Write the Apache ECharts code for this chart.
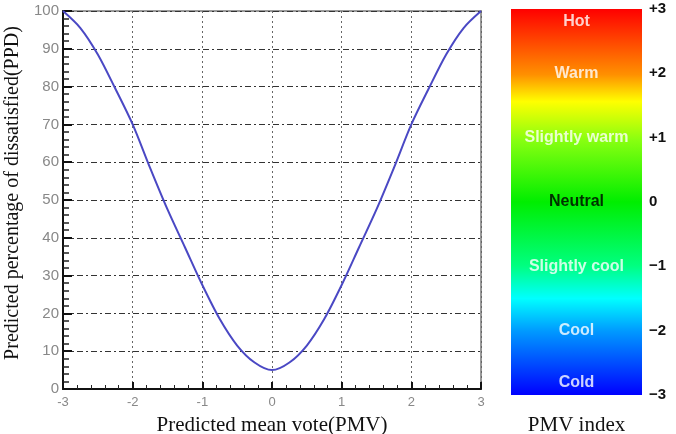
<!DOCTYPE html>
<html>
<head>
<meta charset="utf-8">
<script src="https://cdn.jsdelivr.net/npm/echarts@6/dist/echarts.min.js"></script>
<style>
  html, body { margin: 0; padding: 0; background: #fff; }
  #char1 { width: 676px; height: 434px; }
</style>
</head>
<body>
<div id="char1"></div>
<script>
// PMV vs PPD curve
var pmv = [-3, -2.75, -2.5, -2.25, -2, -1.75, -1.5, -1.25, -1, -0.75, -0.5, -0.25, 0,
           0.25, 0.5, 0.75, 1, 1.25, 1.5, 1.75, 2, 2.25, 2.5, 2.75, 3];
var ppd = [100, 95.5, 88.5, 79.5, 70, 58.5, 47.5, 37.5, 27.5, 18.5, 11.5, 7, 5,
           7, 11.5, 18.5, 27.5, 37.5, 47.5, 58.5, 70, 79.5, 88.5, 95.5, 100];

// colour bar (PMV index scale)
var scaleNames = ['Hot', 'Warm', 'Slightly warm', 'Neutral', 'Slightly cool', 'Cool', 'Cold'];
var scalePos = [2.8, 2, 1, 0, -1, -2, -2.8];
var scaleTicks = { '3': '+3', '2': '+2', '1': '+1', '0': '0', '-1': '\u22121', '-2': '\u22122', '-3': '\u22123' };

var myChart = echarts.init(document.getElementById('char1'));

var curve = [];
for (var i = 0; i < pmv.length; i++) {
    curve.push([pmv[i], ppd[i]]);
}
var labelPts = [];
for (var j = 0; j < scaleNames.length; j++) {
    labelPts.push({
        value: [0, scalePos[j]],
        name: scaleNames[j],
        label: { color: scaleNames[j] == 'Neutral' ? '#000' : '#fff' }
    });
}

var dashDot = [6, 3, 2, 3];

option = {
    animation: false,
    grid: [
        { left: 63, right: 195, top: 11, bottom: 45, outerBoundsMode: 'none', containLabel: false,
          show: true, borderColor: '#999', borderWidth: 2, backgroundColor: '#fff' },
        { left: 511, width: 131, top: 9, bottom: 39, outerBoundsMode: 'none', containLabel: false }
    ],
    xAxis: [{
        gridIndex: 0,
        type: 'value',
        min: -3,
        max: 3,
        interval: 1,
        name: 'Predicted mean vote(PMV)',
        nameLocation: 'middle',
        nameGap: 26,
        nameTextStyle: { fontFamily: 'Liberation Serif', fontSize: 21, color: '#111' },
        axisLine: { onZero: false, lineStyle: { color: '#111', width: 2 } },
        axisTick: { inside: true, length: 7, lineStyle: { color: '#111', width: 2 } },
        minorTick: { show: true, splitNumber: 5, length: 4, lineStyle: { color: '#222', width: 1 } },
        axisLabel: { margin: 7, color: '#888', fontFamily: 'Liberation Sans', fontSize: 13 },
        splitLine: { show: true, lineStyle: { color: '#666', type: [2, 3], width: 1 } }
    }, {
        gridIndex: 1,
        type: 'category',
        data: ['PMV index'],
        name: 'PMV index',
        nameLocation: 'middle',
        nameGap: 20,
        nameTextStyle: { fontFamily: 'Liberation Serif', fontSize: 21, color: '#111' },
        axisLine: { show: false },
        axisTick: { show: false },
        axisLabel: { show: false }
    }],
    yAxis: [{
        gridIndex: 0,
        type: 'value',
        min: 0,
        max: 100,
        interval: 10,
        name: 'Predicted percentage of dissatisfied(PPD)',
        nameLocation: 'middle',
        nameGap: 38,
        nameTextStyle: { fontFamily: 'Liberation Serif', fontSize: 20, color: '#111', padding: [0, 0, 0, 14] },
        axisLine: { show: true, onZero: false, lineStyle: { color: '#111', width: 2 } },
        axisTick: { inside: true, length: 9, lineStyle: { color: '#111', width: 2 } },
        minorTick: { show: true, splitNumber: 5, length: 6, lineStyle: { color: '#222', width: 1.5 } },
        axisLabel: { margin: 4, color: '#888', fontFamily: 'Liberation Sans', fontSize: 15 },
        splitLine: { show: true, lineStyle: { color: '#333', type: dashDot, width: 1 } }
    }, {
        gridIndex: 1,
        type: 'value',
        min: -3,
        max: 3,
        interval: 1,
        position: 'right',
        axisLine: { show: false },
        axisTick: { show: false },
        splitLine: { show: false },
        axisLabel: {
            margin: 7,
            color: '#111',
            fontFamily: 'Liberation Sans',
            fontSize: 15,
            fontWeight: 'bold',
            formatter: function(v) { return scaleTicks[String(v)]; }
        }
    }],
    series: [{
        name: 'PPD',
        type: 'line',
        xAxisIndex: 0,
        yAxisIndex: 0,
        data: curve,
        smooth: 0.3,
        showSymbol: false,
        lineStyle: { color: '#4a48c4', width: 2 },
        z: 5
    }, {
        name: 'warm side',
        type: 'bar',
        xAxisIndex: 1,
        yAxisIndex: 1,
        data: [3],
        barWidth: '100%',
        barGap: '-100%',
        itemStyle: {
            color: new echarts.graphic.LinearGradient(0, 0, 0, 1, [
                { offset: 0, color: '#ff0000' },
                { offset: 0.34, color: '#ff9000' },
                { offset: 0.48, color: '#ffff00' },
                { offset: 0.68, color: '#88ff10' },
                { offset: 1, color: '#00ee00' }
            ])
        }
    }, {
        name: 'cool side',
        type: 'bar',
        xAxisIndex: 1,
        yAxisIndex: 1,
        data: [-3],
        barWidth: '100%',
        barGap: '-100%',
        itemStyle: {
            color: new echarts.graphic.LinearGradient(0, 0, 0, 1, [
                { offset: 0, color: '#00ee00' },
                { offset: 0.33, color: '#00ff80' },
                { offset: 0.5, color: '#00ffff' },
                { offset: 0.67, color: '#0099ff' },
                { offset: 1, color: '#0000ff' }
            ])
        }
    }, {
        name: 'labels',
        type: 'scatter',
        xAxisIndex: 1,
        yAxisIndex: 1,
        data: labelPts,
        symbolSize: 1,
        itemStyle: { color: 'rgba(0,0,0,0)' },
        label: {
            show: true,
            position: 'inside',
            formatter: '{b}',
            fontFamily: 'Liberation Sans',
            fontSize: 16,
            fontWeight: 'bold'
        },
        z: 10
    }]
};

myChart.setOption(option);
window.addEventListener('resize', function() { myChart.resize(); });
</script>
</body>
</html>
